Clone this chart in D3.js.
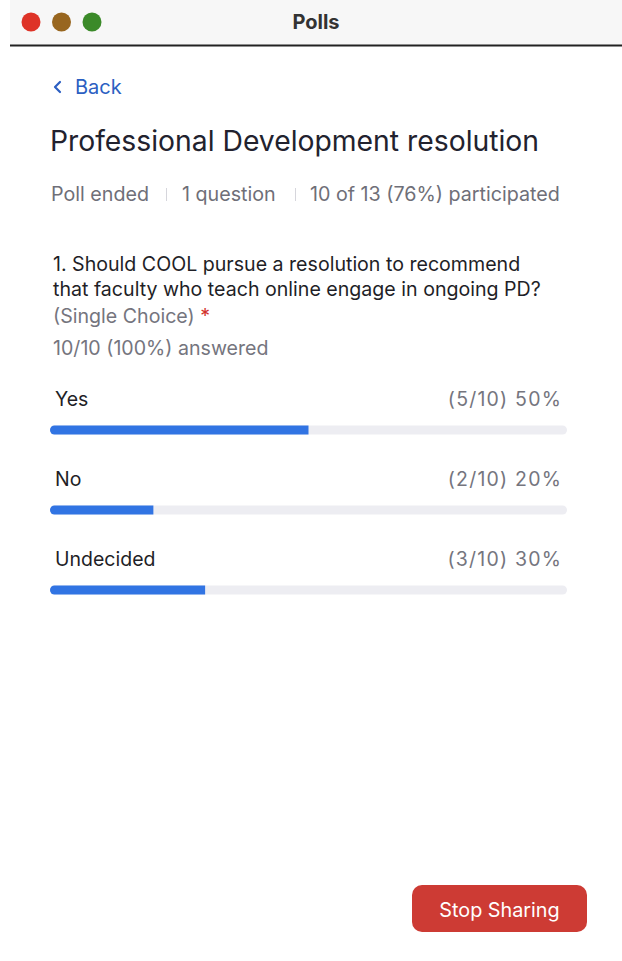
<!DOCTYPE html>
<html>
<head>
<meta charset="utf-8">
<script src="https://cdn.jsdelivr.net/npm/d3@7"></script>
<style>
  body { margin: 0; background: #fff; }
  svg { display: block; font-family: Inter, "Noto Sans", sans-serif; }
</style>
</head>
<body>
<script>
// poll data
let options = ["Yes", "No", "Undecided"];
let votes = [5, 2, 3];
let answered = 10;
let participants = 10, invited = 13;

let width = 622, height = 961;

let svg = d3.select("body")
  .append("svg")
  .attr("width", width)
  .attr("height", height);

// window title bar
svg.append("rect")
  .attr("x", 10).attr("y", 0)
  .attr("width", width - 10).attr("height", 45)
  .style("fill", "#f7f7f7");
svg.append("line")
  .attr("x1", 10).attr("x2", width)
  .attr("y1", 45.5).attr("y2", 45.5)
  .style("stroke", "#222").style("stroke-width", 2);

let lights = ["#de3327", "#98661f", "#3b8a29"];
svg.selectAll("circle.light")
  .data(lights)
  .enter()
  .append("circle")
    .attr("class", "light")
    .attr("cx", (d, i) => 31 + i * 30.5)
    .attr("cy", 22)
    .attr("r", 9.5)
    .style("fill", d => d);

svg.append("text")
  .attr("x", 316).attr("y", 29)
  .attr("text-anchor", "middle")
  .style("font-size", "20px").style("font-weight", "700")
  .style("fill", "#333")
  .text("Polls");

// back link
svg.append("path")
  .attr("d", "M60,82 L55,87 L60,92")
  .style("fill", "none").style("stroke", "#2c5fc2")
  .style("stroke-width", 2.2).style("stroke-linecap", "round").style("stroke-linejoin", "round");
svg.append("text")
  .attr("x", 75).attr("y", 94)
  .style("font-size", "20px").style("fill", "#2c5fc2")
  .text("Back");

// heading
svg.append("text")
  .attr("x", 50).attr("y", 151)
  .style("font-size", "28.3px").style("fill", "#22222e")
  .text("Professional Development resolution");

// meta line
let meta = ["Poll ended", "1 question", `${participants} of ${invited} (${Math.floor(participants / invited * 100)}%) participated`];
let metaX = [51, 182, 310];
svg.selectAll("text.meta")
  .data(meta)
  .enter()
  .append("text")
    .attr("class", "meta")
    .attr("x", (d, i) => metaX[i])
    .attr("y", 200.5)
    .style("font-size", "19.7px").style("fill", "#6f6f78")
    .text(d => d);
svg.selectAll("line.sep")
  .data([166.5, 295.5])
  .enter()
  .append("line")
    .attr("x1", d => d).attr("x2", d => d)
    .attr("y1", 188).attr("y2", 201)
    .style("stroke", "#d6d6dc").style("stroke-width", 1);

// question
let qLines = ["1. Should COOL pursue a resolution to recommend",
              "that faculty who teach online engage in ongoing PD?"];
svg.selectAll("text.q")
  .data(qLines)
  .enter()
  .append("text")
    .attr("class", "q")
    .attr("x", 53)
    .attr("y", (d, i) => 270.5 + i * 25)
    .style("font-size", "19.6px").style("fill", "#1f1f27")
    .text(d => d);

let sc = svg.append("text")
  .attr("x", 53).attr("y", 322.5)
  .style("font-size", "19.6px").style("fill", "#75757e");
sc.append("tspan").text("(Single Choice) ");
sc.append("tspan").style("fill", "#d2322b").text("*");

svg.append("text")
  .attr("x", 53).attr("y", 355)
  .style("font-size", "19.6px").style("fill", "#75757e")
  .text(`${answered}/${participants} (${Math.round(answered / participants * 100)}%) answered`);

// results bars
let pct = votes.map(v => v / answered * 100);

let xscale = d3.scaleLinear()
  .domain([0, 100])
  .range([50, 567]);

let yscale = d3.scalePoint()
  .domain(options)
  .range([430, 590]);

let rows = svg.selectAll("g.row")
  .data(options)
  .enter()
  .append("g")
    .attr("class", "row")
    .attr("transform", d => `translate(0,${yscale(d)})`);

rows.append("text")
  .attr("x", 55).attr("y", -24.5)
  .style("font-size", "19.5px").style("fill", "#1f1f27")
  .text(d => d);

rows.append("text")
  .attr("x", 562).attr("y", -24.5)
  .attr("text-anchor", "end")
  .style("font-size", "19.5px").style("fill", "#75757e")
  .style("letter-spacing", "1.2px")
  .text((d, i) => `(${votes[i]}/${answered}) ${pct[i]}%`);

// track
rows.append("rect")
  .attr("x", xscale(0)).attr("y", -4.5)
  .attr("width", xscale(100) - xscale(0)).attr("height", 9)
  .attr("rx", 4.5)
  .style("fill", "#ededf2");

// fill: rounded on the left only
rows.append("path")
  .attr("d", (d, i) => {
    let x0 = xscale(0), x1 = xscale(pct[i]);
    return `M${x0 + 4.5},-4.5 H${x1} V4.5 H${x0 + 4.5} A4.5,4.5 0 0 1 ${x0 + 4.5},-4.5 Z`;
  })
  .style("fill", "#3174e3");

// button
svg.append("rect")
  .attr("x", 412).attr("y", 885)
  .attr("width", 175).attr("height", 47)
  .attr("rx", 10)
  .style("fill", "#cd3b34");
svg.append("text")
  .attr("x", 499.5).attr("y", 916.5)
  .attr("text-anchor", "middle")
  .style("font-size", "19.8px").style("fill", "#fff")
  .text("Stop Sharing");
</script>
</body>
</html>
